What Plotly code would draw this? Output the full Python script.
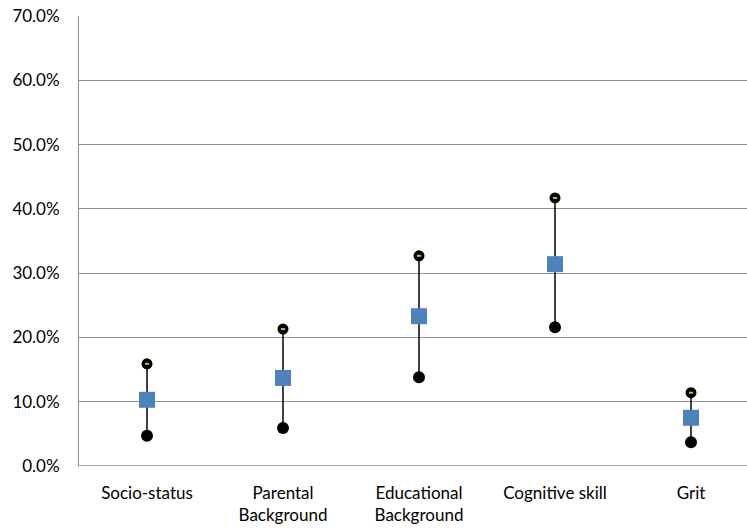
import plotly.graph_objects as go

# Share of variance explained by each factor group
categories = ["Socio-status", "Parental<br>Background", "Educational<br>Background",
              "Cognitive skill", "Grit"]
high = [0.159, 0.213, 0.327, 0.417, 0.114]
mid = [0.103, 0.137, 0.233, 0.314, 0.075]
low = [0.047, 0.059, 0.138, 0.216, 0.037]
y_ticks = [0.0, 0.1, 0.2, 0.3, 0.4, 0.5, 0.6, 0.7]

xs = list(range(len(categories)))

# vertical range bars
line_x, line_y = [], []
for i in xs:
    line_x += [i, i, None]
    line_y += [low[i], high[i], None]

fig = go.Figure()
fig.add_trace(go.Scatter(x=line_x, y=line_y, mode="lines",
                         line=dict(color="black", width=1.5),
                         hoverinfo="skip", showlegend=False))
fig.add_trace(go.Scatter(x=xs, y=low, mode="markers",
                         marker=dict(symbol="circle", size=12, color="black"),
                         showlegend=False))
fig.add_trace(go.Scatter(x=xs, y=high, mode="markers",
                         marker=dict(symbol="circle", size=11, color="black"),
                         showlegend=False))
fig.add_trace(go.Scatter(x=xs, y=high, mode="markers",
                         marker=dict(symbol="line-ew", size=3,
                                     line=dict(color="#A6C84E", width=2)),
                         hoverinfo="skip", showlegend=False))
fig.add_trace(go.Scatter(x=xs, y=mid, mode="markers",
                         marker=dict(symbol="square", size=16, color="#4F81BD"),
                         showlegend=False))

font = "Lato, 'Open Sans', sans-serif"
fig.update_layout(
    width=747, height=529,
    margin=dict(l=79, r=0, t=16, b=63),
    plot_bgcolor="white", paper_bgcolor="white",
    font=dict(family=font, size=17, color="black"),
    xaxis=dict(range=[-0.5, -0.5 + 668 / 136], tickvals=xs, ticktext=categories,
               showgrid=False, zeroline=False, showline=False, ticks="",
               ticklabelstandoff=15, fixedrange=True),
    yaxis=dict(range=[0, 0.7], tickvals=y_ticks,
               ticktext=[f"{v*100:.1f}%" for v in y_ticks],
               showgrid=True, gridcolor="#8c8c8c", gridwidth=1,
               zeroline=False, showline=True, linecolor="#8c8c8c", linewidth=1,
               ticks="", ticklabelstandoff=15, fixedrange=True),
)
fig.add_hline(y=0, line=dict(color="#8c8c8c", width=1.5))
fig.write_html("out.html")
